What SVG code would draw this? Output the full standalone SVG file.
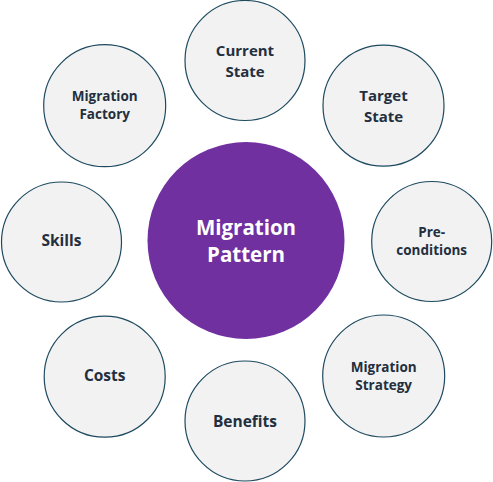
<svg xmlns="http://www.w3.org/2000/svg" width="493" height="482" viewBox="0 0 493 482">
<style>
.o{fill:#f2f2f2;stroke:#1e4a60;stroke-width:1.2}
.t{font-family:"Open Sans","DejaVu Sans",sans-serif;font-weight:bold;fill:#232f3e;text-anchor:middle}
.c{font-family:"Open Sans","DejaVu Sans",sans-serif;font-weight:bold;fill:#ffffff;text-anchor:middle;font-size:20.5px}
</style>
<rect width="493" height="482" fill="#ffffff"/>
<g id="connectors"/>
<g id="center">
<circle cx="246" cy="240.5" r="98.5" fill="#7030a0"/>
<text class="c" x="246" y="235">Migration</text>
<text class="c" x="246" y="261.5">Pattern</text>
</g>
<g id="current-state">
<circle class="o" cx="245" cy="60.5" r="60"/>
<text class="t" x="245" y="56" font-size="15">Current</text>
<text class="t" x="245" y="76.5" font-size="15">State</text>
</g>
<g id="target-state">
<circle class="o" cx="383.5" cy="105.7" r="60.5"/>
<text class="t" x="383.5" y="100.7" font-size="15">Target</text>
<text class="t" x="383.5" y="121.5" font-size="15">State</text>
</g>
<g id="pre-conditions">
<circle class="o" cx="431.7" cy="241.5" r="60"/>
<text class="t" x="431.7" y="236.5" font-size="13.5">Pre-</text>
<text class="t" x="431.7" y="254.5" font-size="13.5">conditions</text>
</g>
<g id="migration-strategy">
<circle class="o" cx="383.7" cy="376" r="61"/>
<text class="t" x="383.7" y="372" font-size="13.5">Migration</text>
<text class="t" x="383.7" y="390" font-size="13.5">Strategy</text>
</g>
<g id="benefits">
<circle class="o" cx="245" cy="421" r="60"/>
<text class="t" x="245" y="426.7" font-size="15.5">Benefits</text>
</g>
<g id="costs">
<circle class="o" cx="104.7" cy="376.7" r="60.5"/>
<text class="t" x="104.7" y="381" font-size="15.5">Costs</text>
</g>
<g id="skills">
<circle class="o" cx="61.5" cy="242" r="60"/>
<text class="t" x="61.5" y="246.3" font-size="15.5">Skills</text>
</g>
<g id="migration-factory">
<circle class="o" cx="104.7" cy="105.7" r="61"/>
<text class="t" x="104.7" y="100.7" font-size="13.5">Migration</text>
<text class="t" x="104.7" y="118.7" font-size="13.5">Factory</text>
</g>
</svg>
